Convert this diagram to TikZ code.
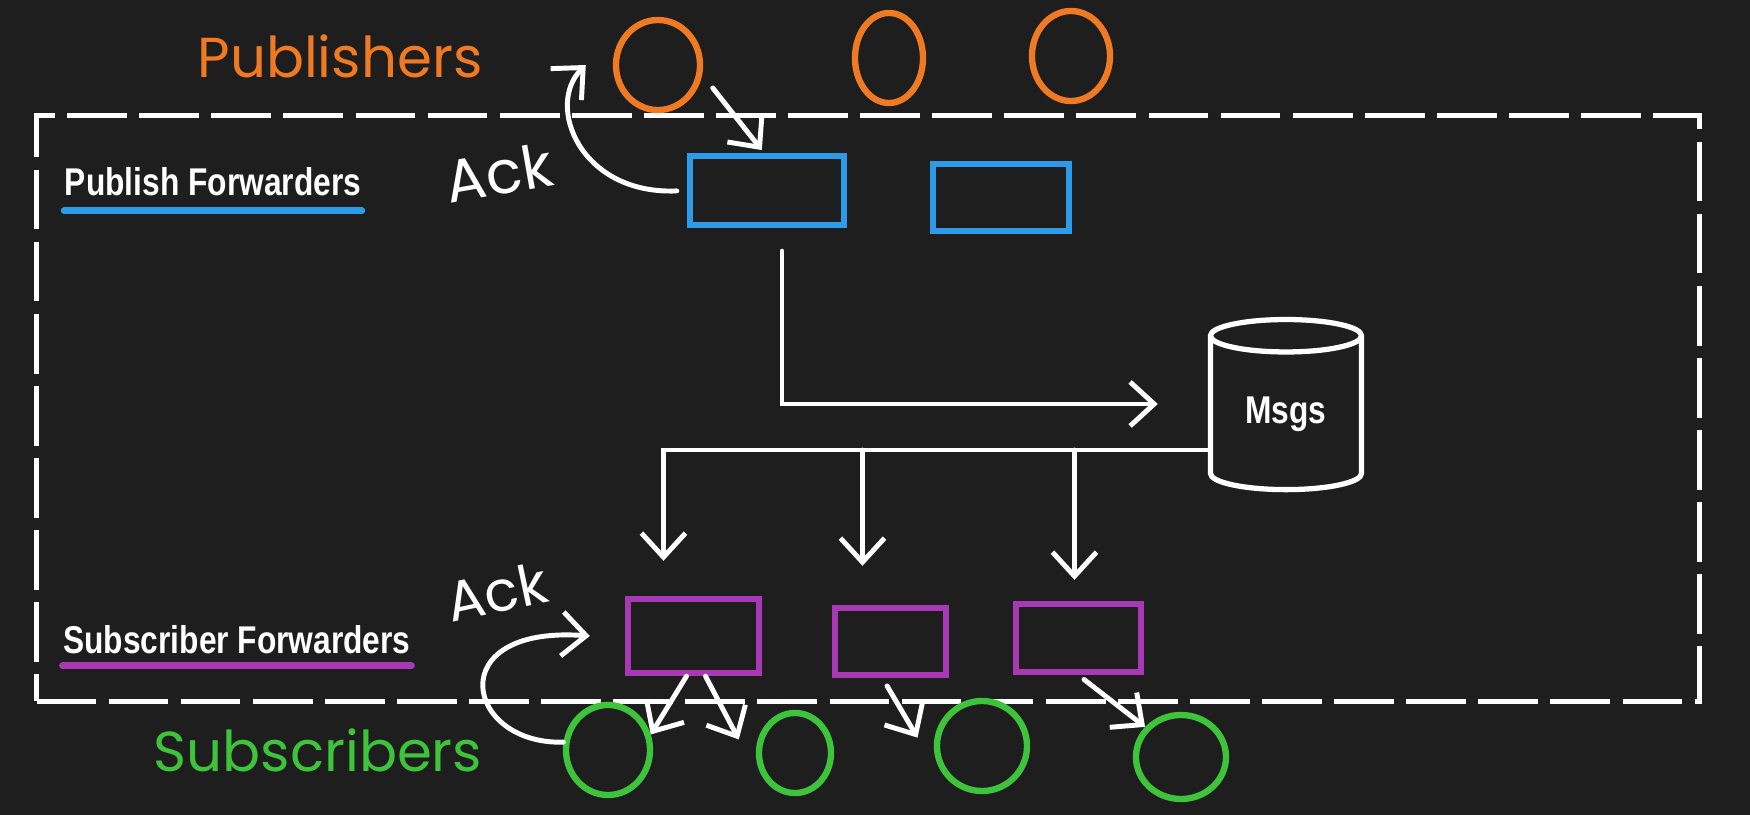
\documentclass[tikz,border=0pt]{standalone}
\usepackage{fontspec}
\usetikzlibrary{shapes.geometric, arrows.meta, positioning}
\newfontfamily\labelfont[FakeStretch=0.82]{Liberation Sans}
\newfontfamily\handfont{Poppins}
\definecolor{board}{RGB}{30,30,30}
\definecolor{pubcol}{RGB}{240,122,36}
\definecolor{subcol}{RGB}{62,196,58}
\definecolor{fwdblue}{RGB}{46,155,232}
\definecolor{fwdpurple}{RGB}{168,56,180}
\tikzstyle{publisher} = [ellipse, draw=pubcol, line width=1.8pt, inner sep=0pt, minimum height=0.9cm]
\tikzstyle{subscriber} = [ellipse, draw=subcol, line width=1.8pt, inner sep=0pt, minimum height=0.86cm]
\tikzstyle{pubfwd} = [rectangle, draw=fwdblue, line width=1.8pt, inner sep=0pt]
\tikzstyle{subfwd} = [rectangle, draw=fwdpurple, line width=1.8pt, inner sep=0pt]
\tikzstyle{store} = [cylinder, shape border rotate=90, draw=white, line width=1.5pt, aspect=0.4, minimum width=1.51cm, minimum height=1.7cm, inner sep=0pt, text=white, font=\labelfont\bfseries\fontsize{11}{13}\selectfont]
\tikzstyle{heading} = [text=white, inner sep=0pt, font=\labelfont\bfseries\fontsize{11}{13}\selectfont]
\tikzstyle{scrawl} = [inner sep=0pt, font=\handfont\fontsize{16}{19}\selectfont]
\tikzstyle{arrow} = [white, line width=1.4pt, line cap=round, -{Straight Barb[length=2.4mm,width=4.4mm]}]
\tikzstyle{underline} = [line width=2pt, line cap=round]
\tikzstyle{frame} = [draw=white, line width=1.4pt, dash pattern=on 17pt off 3.5pt, inner sep=0pt, minimum width=16.62cm, minimum height=5.85cm]

\begin{document}
\begin{tikzpicture}[x=0.01cm, y=-0.01cm]
    \fill [board] (0,0) rectangle (1750,815);
    \useasboundingbox (0,0) rectangle (1750,815);
    \node (system) [frame] at (868,408.5) {};
    \node (pub1) [publisher, minimum width=0.84cm] at (658,65) {};
    \node (pub2) [publisher, minimum width=0.68cm] at (889,58) {};
    \node (pub3) [publisher, minimum width=0.78cm] at (1071,56) {};
    \node (pubtitle) [scrawl, text=pubcol] at (340,56) {Publishers};
    \node (pf1) [pubfwd, minimum width=1.54cm, minimum height=0.69cm] at (767,190.5) {};
    \node (pf2) [pubfwd, minimum width=1.36cm, minimum height=0.67cm] at (1001,197.5) {};
    \node (pflabel) [heading] at (213,182) {Publish Forwarders};
    \node (ack1) [scrawl, text=white, rotate=10, font=\handfont\fontsize{17}{20}\selectfont] at (499,173) {Ack};
    \node (msgs) [store] at (1286,414) {Msgs};
    \node (sf1) [subfwd, minimum width=1.31cm, minimum height=0.74cm] at (693.5,636) {};
    \node (sf2) [subfwd, minimum width=1.11cm, minimum height=0.67cm] at (890.5,641.5) {};
    \node (sf3) [subfwd, minimum width=1.25cm, minimum height=0.68cm] at (1078.5,638) {};
    \node (sflabel) [heading] at (237,640) {Subscriber Forwarders};
    \node (ack2) [scrawl, text=white, rotate=12, font=\handfont\fontsize{16}{19}\selectfont] at (497,592) {Ack};
    \node (sub1) [subscriber, minimum width=0.84cm, minimum height=0.9cm] at (608,750) {};
    \node (sub2) [subscriber, minimum width=0.72cm, minimum height=0.8cm] at (795,753) {};
    \node (sub3) [subscriber, minimum width=0.9cm, minimum height=0.9cm] at (982,746) {};
    \node (sub4) [subscriber, minimum width=0.9cm, minimum height=0.84cm] at (1181,757) {};
    \node (subtitle) [scrawl, text=subcol] at (318,750) {Subscribers};
    \draw [underline, fwdblue] ([yshift=-0.14cm]pflabel.south west) -- ([yshift=-0.14cm]pflabel.south east);
    \draw [underline, fwdpurple] ([yshift=-0.11cm]sflabel.south west) -- ([yshift=-0.11cm]sflabel.south east);
    \coordinate (tap) at ([yshift=-0.36cm]msgs.west);
    \coordinate (drop2) at ([xshift=-0.28cm]sf2.north);
    \coordinate (drop3) at ([xshift=-0.04cm]sf3.north);
    \draw [arrow, shorten >=1pt] ([xshift=0.15cm]pub1.-30) -- ([xshift=-0.03cm]pf1.north);
    \draw [arrow, shorten <=0.1cm] (pf1.west) .. controls (580,195) and (545,105) .. ([xshift=-0.27cm]pub1.west);
    \draw [arrow, shorten <=0.23cm, shorten >=0.5cm] ([xshift=0.15cm]pf1.south) |- ([yshift=0.1cm]msgs.west);
    \draw [arrow, shorten >=0.35cm] (tap) -| ([xshift=-0.3cm]sf1.north);
    \draw [arrow, shorten >=0.39cm] (drop2 |- tap) -- (drop2);
    \draw [arrow, shorten >=0.21cm] (drop3 |- tap) -- (drop3);
    \draw [arrow] ([xshift=-0.07cm]sf1.south) -- (sub1.20);
    \draw [arrow] ([xshift=0.12cm]sf1.south) -- ([xshift=-0.19cm]sub2.160);
    \draw [arrow, shorten <=0.09cm] ([xshift=-0.08cm]sf2.south) -- ([xshift=-0.17cm]sub3.170);
    \draw [arrow, shorten <=0.07cm] (sf3.south) -- (sub4.140);
    \draw [arrow] (sub1.170) .. controls (465,745) and (440,625) .. ([xshift=-0.35cm]sf1.west);
\end{tikzpicture}
\end{document}
